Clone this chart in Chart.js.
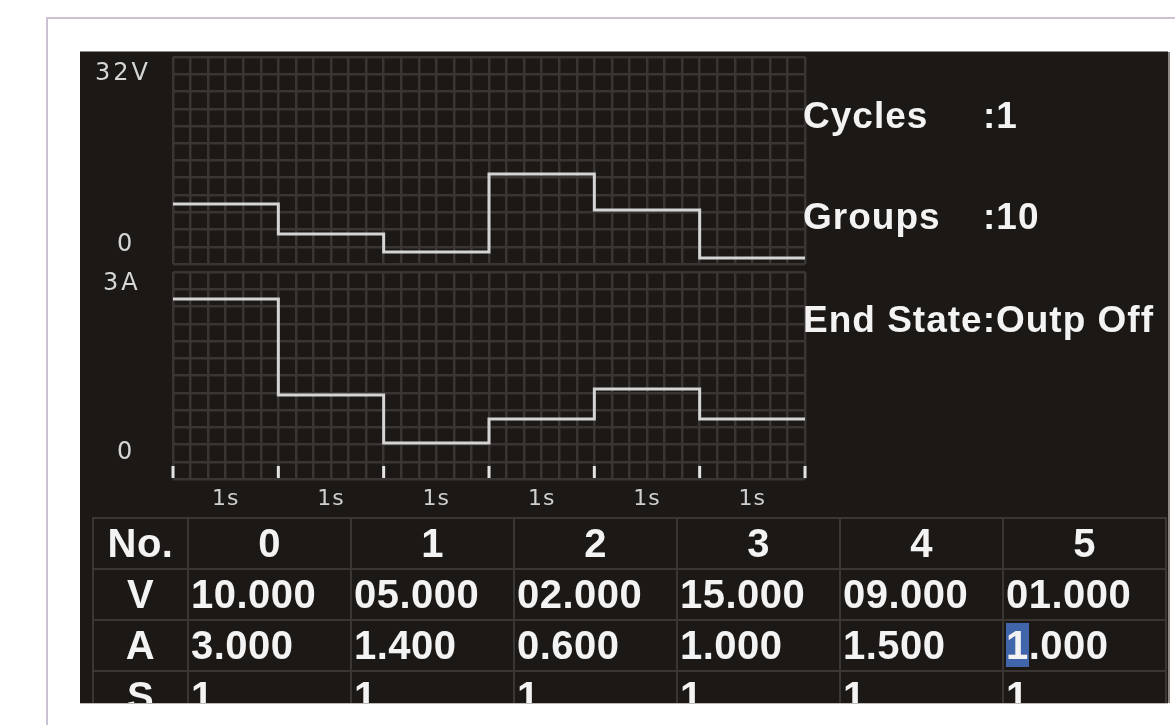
<!DOCTYPE html>
<html>
<head>
<meta charset="utf-8">
<script src="https://cdn.jsdelivr.net/npm/chart.js@4.4.0/dist/chart.umd.min.js"></script>
<style>
    html, body { margin: 0; padding: 0; background: #fff; width: 1175px; height: 725px; overflow: hidden; }
    .frame { position: absolute; left: 46px; top: 17px; width: 1300px; height: 900px;
             border-left: 2px solid #cbc3d3; border-top: 2px solid #cbc3d3; }
    .screen { position: absolute; left: 80px; top: 52px; width: 1088px; height: 651px; background: #1b1816;
              box-shadow: 0 -1px 0 #8d8884, 2px 0 0 #8d8884, 0 1px 0 #bdb9b5; }
    canvas { position: absolute; }
    .info { position: absolute; color: #f3f3f3; font: bold 37px "Liberation Sans", Arial, sans-serif;
            letter-spacing: 1px; line-height: 37px; white-space: nowrap; }
    .tablewrap { position: absolute; left: 92px; top: 517px; width: 1076px; height: 186px; overflow: hidden; }
    table { border-collapse: collapse; table-layout: fixed; color: #f3f3f3;
            font: bold 40px "Liberation Sans", Arial, sans-serif; letter-spacing: 0.5px; }
    td { border: 2px solid #3a3633; height: 49px; padding: 0 0 0 2px; vertical-align: middle; white-space: nowrap; overflow: hidden; }
    td.head { text-align: center; padding: 0; }
    .cursor { background: #4065aa; }
</style>
</head>
<body>
<div class="frame"></div>
<div class="screen"></div>
<canvas id="voltChart" width="740" height="220" style="left:80px;top:52px"></canvas>
<canvas id="ampChart" width="740" height="255" style="left:80px;top:265px"></canvas>
<div id="info"></div>
<div class="tablewrap"><table id="steps"></table></div>

<script>
// list program: one entry per step
const stepNo = [0, 1, 2, 3, 4, 5];
const voltage = [10, 5, 2, 15, 9, 1];
const current = [3.0, 1.4, 0.6, 1.0, 1.5, 1.0];
const duration = [1, 1, 1, 1, 1, 1];

// axis labels
const voltTicks = [32, 0];
const voltTickText = ['32V', '0'];
const ampTicks = [3, 0];
const ampTickText = ['3A', '0'];
const timeLabels = duration.map(d => d + 's');

// list settings
const cycles = 1;
const groups = 10;
const endState = 'Outp Off';

// hold each value until the next step starts
function stepPoints(values) {
    let pts = [];
    let t = 0;
    for (let i = 0; i < values.length; i++) {
        pts.push({ x: t, y: values[i] });
        t += duration[i];
    }
    pts.push({ x: t, y: values[values.length - 1] });
    return pts;
}

function gridTicks(max, count) {
    let ticks = [];
    for (let i = 0; i <= count; i++) ticks.push({ value: max * i / count });
    return ticks;
}

const screenText = {
    id: 'screenText',
    afterDraw(chart, args, opts) {
        const ctx = chart.ctx;
        const xs = chart.scales.x;
        const ys = chart.scales.y;
        const area = chart.chartArea;
        ctx.save();
        ctx.fillStyle = '#d6d6d6';
        ctx.textBaseline = 'middle';
        ctx.font = '24px "DejaVu Sans"';
        ctx.letterSpacing = '3px';
        opts.values.forEach((v, i) => {
            ctx.fillText(opts.texts[i], area.left + opts.dx[i], ys.getPixelForValue(v) + opts.dy[i]);
        });
        if (opts.time) {
            // step boundaries and durations along the bottom
            let t = 0;
            ctx.fillStyle = '#e2e2e2';
            for (let i = 0; i <= duration.length; i++) {
                const px = xs.getPixelForValue(t);
                ctx.fillRect(px - 1.5, area.bottom - 13, 3, 12);
                if (i < duration.length) t += duration[i];
            }
            ctx.fillStyle = '#d0d0d0';
            ctx.font = '22px "DejaVu Sans"';
            ctx.letterSpacing = '1px';
            ctx.textAlign = 'center';
            t = 0;
            for (let i = 0; i < duration.length; i++) {
                const px = xs.getPixelForValue(t + duration[i] / 2);
                ctx.fillText(timeLabels[i], px, area.bottom + 20);
                t += duration[i];
            }
        }
        ctx.restore();
    }
};

function makeChart(id, values, yMax, padding, labelOpts) {
    const total = duration.reduce((a, b) => a + b, 0);
    return new Chart(document.getElementById(id), {
        type: 'line',
        data: {
            datasets: [{
                data: stepPoints(values),
                stepped: 'before',
                borderColor: '#d4d4d4',
                borderWidth: 3,
                pointRadius: 0,
                fill: false
            }]
        },
        options: {
            responsive: false,
            animation: false,
            devicePixelRatio: 1,
            layout: { padding: padding },
            plugins: {
                legend: { display: false },
                tooltip: { enabled: false },
                screenText: labelOpts
            },
            scales: {
                x: {
                    type: 'linear',
                    min: 0,
                    max: total,
                    afterBuildTicks: s => { s.ticks = gridTicks(total, total * 6); },
                    ticks: { display: false },
                    grid: { color: '#3a3532', lineWidth: 2.5, drawTicks: false },
                    border: { display: false }
                },
                y: {
                    min: 0,
                    max: yMax,
                    afterBuildTicks: s => { s.ticks = gridTicks(yMax, 12); },
                    ticks: { display: false },
                    grid: { color: '#3a3532', lineWidth: 2.5, drawTicks: false },
                    border: { display: false }
                }
            }
        },
        plugins: [screenText]
    });
}

makeChart('voltChart', voltage, 34.5, { left: 93, right: 15, top: 5, bottom: 8 },
    { values: voltTicks, texts: voltTickText, dx: [-78, -56], dy: [2, -19], time: false });
makeChart('ampChart', current, 3.45, { left: 93, right: 15, top: 7, bottom: 41 },
    { values: ampTicks, texts: ampTickText, dx: [-70, -56], dy: [-15, -26], time: true });

// settings text to the right of the plots
const info = document.getElementById('info');
[['Cycles', ':' + cycles, 97], ['Groups', ':' + groups, 198]].forEach(r => {
    info.innerHTML += `<div class="info" style="left:803px;top:${r[2]}px">${r[0]}</div>` +
        `<div class="info" style="left:983px;top:${r[2]}px">${r[1]}</div>`;
});
info.innerHTML += `<div class="info" style="left:803px;top:301px">End State:${endState}</div>`;

// step table
let html = '<colgroup><col style="width:95px">' + stepNo.map(() => '<col style="width:163px">').join('') + '</colgroup>';
html += '<tr><td class="head">No.</td>' + stepNo.map(n => `<td class="head">${n}</td>`).join('') + '</tr>';
html += '<tr><td class="head">V</td>' + voltage.map(v => `<td>${v.toFixed(3).padStart(6, '0')}</td>`).join('') + '</tr>';
html += '<tr><td class="head">A</td>' + current.map((a, i) => {
    let s = a.toFixed(3);
    if (i === current.length - 1) s = `<span class="cursor">${s[0]}</span>${s.slice(1)}`;
    return `<td>${s}</td>`;
}).join('') + '</tr>';
html += '<tr><td class="head">S</td>' + duration.map(d => `<td>${d}</td>`).join('') + '</tr>';
document.getElementById('steps').innerHTML = html;
</script>
</body>
</html>
